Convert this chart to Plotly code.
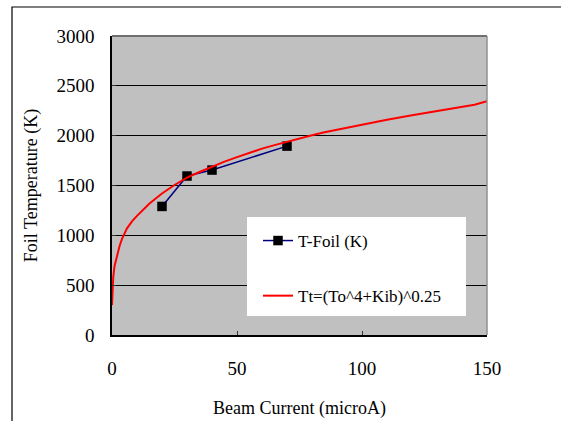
import plotly.graph_objects as go

foil_current = [20, 30, 40, 70]
foil_temp = [1290, 1595, 1655, 1895]

model_current = [0, 0.5, 1, 2, 3, 4, 6, 8, 10, 15, 20, 25, 30, 35, 40, 45, 50, 55, 60,
                 65, 70, 75, 80, 85, 90, 95, 100, 110, 120, 130, 140, 145, 150, 152]
model_temp = [300, 580, 690, 800, 890, 965, 1070, 1140, 1195, 1320, 1420, 1505, 1580,
              1635, 1690, 1740, 1785, 1830, 1870, 1905, 1940, 1975, 2005, 2035, 2060,
              2090, 2115, 2160, 2205, 2245, 2285, 2310, 2345, 2355]

x_ticks = [0, 50, 100, 150]
y_ticks = [0, 500, 1000, 1500, 2000, 2500, 3000]

FONT = "Liberation Serif"

fig = go.Figure()
fig.add_trace(go.Scatter(
    x=foil_current, y=foil_temp, mode="lines+markers", name="T-Foil (K)",
    line=dict(color="#000080", width=1.5),
    marker=dict(symbol="square", size=9.5, color="black"),
    legendgroup="a"))
fig.add_trace(go.Scatter(
    x=model_current, y=model_temp, mode="lines", name="Tt=(To^4+Kib)^0.25",
    line=dict(color="#ff0000", width=2), legendgroup="b"))

pl, pr, pt, pb = 112, 487, 36, 335
W, H = 561, 421
pw, ph = pr - pl, pb - pt

def px(x):
    return (x - pl) / pw

def py(y):
    return (pb - y) / ph

fig.update_layout(
    width=W, height=H,
    margin=dict(l=pl, r=W - pr, t=pt, b=H - pb, autoexpand=False),
    paper_bgcolor="white", plot_bgcolor="#c0c0c0",
    font=dict(family=FONT, size=18, color="black"),
    showlegend=True,
    legend=dict(x=px(258), y=py(223), xanchor="left", yanchor="top",
                bgcolor="rgba(0,0,0,0)", font=dict(size=17, family=FONT),
                tracegroupgap=30, itemwidth=30),
    xaxis=dict(range=[0, 150], tickvals=x_ticks, showgrid=False, zeroline=False,
               showline=True, linecolor="black", linewidth=1.5, automargin=False,
               ticks="inside", ticklen=4, tickcolor="#333333", tickwidth=1,
               ticklabelstandoff=15, tickfont=dict(size=19, family=FONT),
               title=dict(text="Beam Current (microA)", standoff=24,
                          font=dict(size=18, family=FONT))),
    yaxis=dict(range=[0, 3000], tickvals=y_ticks, showgrid=True, gridcolor="black",
               gridwidth=1, zeroline=False, showline=True, linecolor="black",
               linewidth=1.5, automargin=False,
               ticks="inside", ticklen=4, tickcolor="#333333", tickwidth=1,
               ticklabelstandoff=12,
               tickfont=dict(size=19, family=FONT),
               title=dict(text="Foil Temperature (K)", standoff=14,
                          font=dict(size=18, family=FONT))),
    shapes=[
        dict(type="rect", xref="paper", yref="paper", x0=px(247), x1=px(466),
             y0=py(316), y1=py(217), fillcolor="white", line=dict(width=0),
             layer="above"),
        dict(type="line", xref="paper", yref="paper", x0=0, x1=1, y0=1, y1=1,
             line=dict(color="#707070", width=2), layer="above"),
        dict(type="line", xref="paper", yref="paper", x0=1, x1=1, y0=0, y1=1,
             line=dict(color="#909090", width=1.5), layer="above"),
        dict(type="rect", xref="paper", yref="paper", x0=px(12), x1=px(600),
             y0=py(460), y1=py(7), line=dict(color="black", width=1.2),
             fillcolor="rgba(0,0,0,0)", layer="below"),
    ],
)

fig.write_html("out.html", config={"displayModeBar": False},
               post_script="document.body.style.margin='0';document.body.style.overflow='hidden';")
